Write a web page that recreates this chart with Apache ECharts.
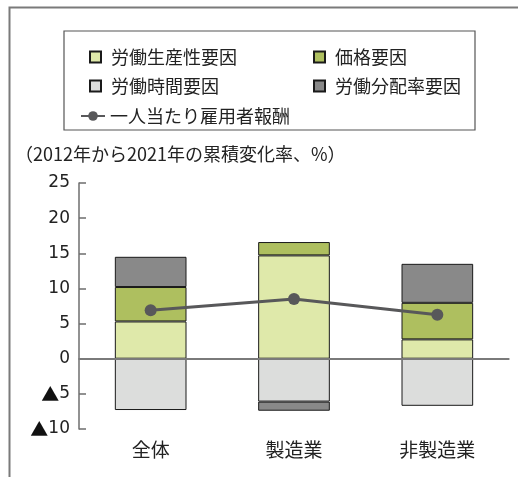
<!DOCTYPE html>
<html>
<head>
<meta charset="utf-8">
<script src="https://cdn.jsdelivr.net/npm/echarts@6/dist/echarts.min.js"></script>
<style>
html,body{margin:0;padding:0;background:#fff;}
#c{width:518px;height:477px;}
</style>
</head>
<body>
<div id="c"></div>
<script>
const categories = ['全体', '製造業', '非製造業'];
const productivity = [5.3, 14.7, 2.75];
const price = [4.9, 1.9, 5.2];
const hours = [-7.3, -6.1, -6.7];
const laborShare = [4.3, -1.3, 5.55];
const compensation = [6.9, 8.5, 6.25];
const yTicks = { min: -10, max: 25, interval: 5 };
const subtitle = '（2012年から2021年の累積変化率、%）';

const FONT = '"Noto Sans CJK JP", "Noto Sans", sans-serif';
const border = { borderColor: '#1a1a1a', borderWidth: 1 };

const chart = echarts.init(document.getElementById('c'), null, { renderer: 'canvas' });
const legendText = { fontFamily: FONT, fontSize: 18, color: '#222', lineHeight: 20 };

chart.setOption({
  animation: false,
  backgroundColor: '#fff',
  textStyle: { fontFamily: FONT },
  grid: { left: 79, right: 9, top: 183, bottom: 48, containLabel: false },
  graphic: [
    { type: 'rect', shape: { x: 9.5, y: 7.5, width: 540, height: 500 }, style: { fill: 'none', stroke: '#7a7a7a', lineWidth: 2 }, z: 0 },
    { type: 'rect', shape: { x: 64, y: 31, width: 411, height: 99 }, style: { fill: 'none', stroke: '#555', lineWidth: 1.2 }, z: 0 },
    { type: 'text', left: 15, top: 145, style: { text: subtitle, font: '18px ' + FONT, fill: '#222' } }
  ],
  legend: [
    { orient: 'vertical', left: 84, top: 42, itemWidth: 11, itemHeight: 11, itemGap: 9, icon: 'rect',
      textStyle: Object.assign({ padding: [0, 0, 0, 5] }, legendText),
      data: ['労働生産性要因', '労働時間要因'] },
    { orient: 'vertical', left: 308, top: 42, itemWidth: 11, itemHeight: 11, itemGap: 9, icon: 'rect',
      textStyle: Object.assign({ padding: [0, 0, 0, 5] }, legendText),
      data: ['価格要因', '労働分配率要因'] },
    { orient: 'vertical', left: 75, top: 101, itemWidth: 24, itemHeight: 12,
      textStyle: legendText,
      data: ['一人当たり雇用者報酬'] }
  ],
  xAxis: {
    type: 'category',
    data: categories,
    axisLine: { lineStyle: { color: '#6e6e6e', width: 1.5 } },
    axisTick: { inside: true, length: 7, lineStyle: { color: '#6e6e6e', width: 1.5 } },
    axisLabel: { fontFamily: FONT, fontSize: 19, color: '#222', margin: 11 }
  },
  yAxis: {
    type: 'value',
    min: yTicks.min, max: yTicks.max, interval: yTicks.interval,
    splitLine: { show: false },
    axisLine: { show: true, lineStyle: { color: '#6e6e6e', width: 1.5 } },
    axisTick: { show: true, inside: true, length: 7, lineStyle: { color: '#6e6e6e', width: 1.5 } },
    axisLabel: {
      fontFamily: '"DejaVu Sans", ' + FONT, fontSize: 17, color: '#222', margin: 9,
      formatter: v => v < 0 ? '{t|▲}' + (-v) : String(v),
      rich: { t: { fontFamily: FONT, fontSize: 18, color: '#111' } }
    }
  },
  series: [
    { name: '労働生産性要因', type: 'bar', stack: 's', barWidth: '50%', data: productivity,
      itemStyle: Object.assign({ color: '#dfe9aa' }, border),
      markLine: { silent: true, symbol: 'none', label: { show: false },
        lineStyle: { color: '#7a7a7a', width: 2, type: 'solid' }, data: [{ yAxis: 0 }] } },
    { name: '労働時間要因', type: 'bar', stack: 's', data: hours,
      itemStyle: Object.assign({ color: '#dcdddc' }, border) },
    { name: '価格要因', type: 'bar', stack: 's', data: price,
      itemStyle: Object.assign({ color: '#aebf5f' }, border) },
    { name: '労働分配率要因', type: 'bar', stack: 's', data: laborShare,
      itemStyle: Object.assign({ color: '#898989' }, border) },
    { name: '一人当たり雇用者報酬', type: 'line', data: compensation, z: 10,
      symbol: 'circle', symbolSize: 12,
      lineStyle: { color: '#58585a', width: 3 },
      itemStyle: { color: '#58585a' } }
  ]
});
</script>
</body>
</html>
